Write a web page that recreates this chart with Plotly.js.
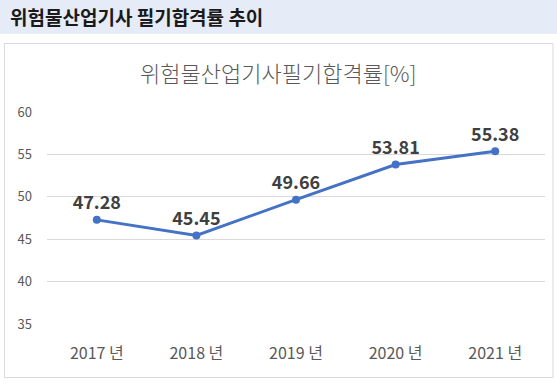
<!DOCTYPE html>
<html><head><meta charset="utf-8">
<script src="https://cdn.plot.ly/plotly-3.0.1.min.js"></script>
<style>html,body{margin:0;padding:0;background:#fff;}#c{width:557px;height:385px;}</style>
</head><body><div id="c"></div>
<script>
const years = ['2017 년','2018 년','2019 년','2020 년','2021 년'];
const passRates = [47.28, 45.45, 49.66, 53.81, 55.38];
const yTicks = [35, 40, 45, 50, 55, 60];

const W = 557, H = 385, L = 47, R = 12, T = 112, B = 61;
const pw = W - L - R, ph = H - T - B;
const px = x => (x - L) / pw;
const py = y => (H - B - y) / ph;

const font = '"Noto Sans CJK KR", "Noto Sans", sans-serif';

Plotly.newPlot('c', [{
  x: years, y: passRates, type: 'scatter', mode: 'lines+markers+text',
  line: {color: '#4472C4', width: 3},
  marker: {color: '#4472C4', size: 8},
  text: passRates.map(v => v.toFixed(2)),
  textposition: 'top center',
  textfont: {family: font, size: 18, color: '#404040', weight: 'bold'},
  cliponaxis: false, hoverinfo: 'none'
}], {
  width: W, height: H,
  margin: {l: L, r: R, t: T, b: B, pad: 0},
  paper_bgcolor: '#fff', plot_bgcolor: '#fff',
  showlegend: false,
  xaxis: {type: 'category', range: [-0.5, 4.5], showgrid: false, zeroline: false, showline: false, ticks: '',
    tickfont: {family: font, size: 16, color: '#595959'}, ticklabelstandoff: 18, fixedrange: true},
  yaxis: {range: [35, 60], tickvals: yTicks, showgrid: true, gridcolor: '#D9D9D9', gridwidth: 1,
    zeroline: false, showline: false, ticks: '', tickfont: {family: font, size: 13, color: '#595959'},
    ticklabelstandoff: 14, fixedrange: true},
  shapes: [
    {type: 'rect', xref: 'paper', yref: 'paper', x0: px(0), x1: px(W), y0: py(34), y1: py(0),
      fillcolor: '#E6ECF7', line: {width: 0}, layer: 'below'},
    {type: 'rect', xref: 'paper', yref: 'paper', x0: px(4.5), x1: px(553), y0: py(377.5), y1: py(43.5),
      fillcolor: 'rgba(0,0,0,0)', line: {color: '#D9D9D9', width: 1}, layer: 'below'}
  ],
  annotations: [
    {xref: 'paper', yref: 'paper', x: px(8), y: py(17), xanchor: 'left', yanchor: 'middle',
      text: '위험물산업기사 필기합격률 추이', showarrow: false,
      font: {family: font, size: 19, color: '#1a1a1a', weight: 'bold'}},
    {xref: 'paper', yref: 'paper', x: px(278), y: py(72), xanchor: 'center', yanchor: 'middle',
      text: '위험물산업기사필기합격률[%]', showarrow: false,
      font: {family: font, size: 22, color: '#595959', weight: 300}}
  ]
}, {displayModeBar: false, staticPlot: true});
</script></body></html>
